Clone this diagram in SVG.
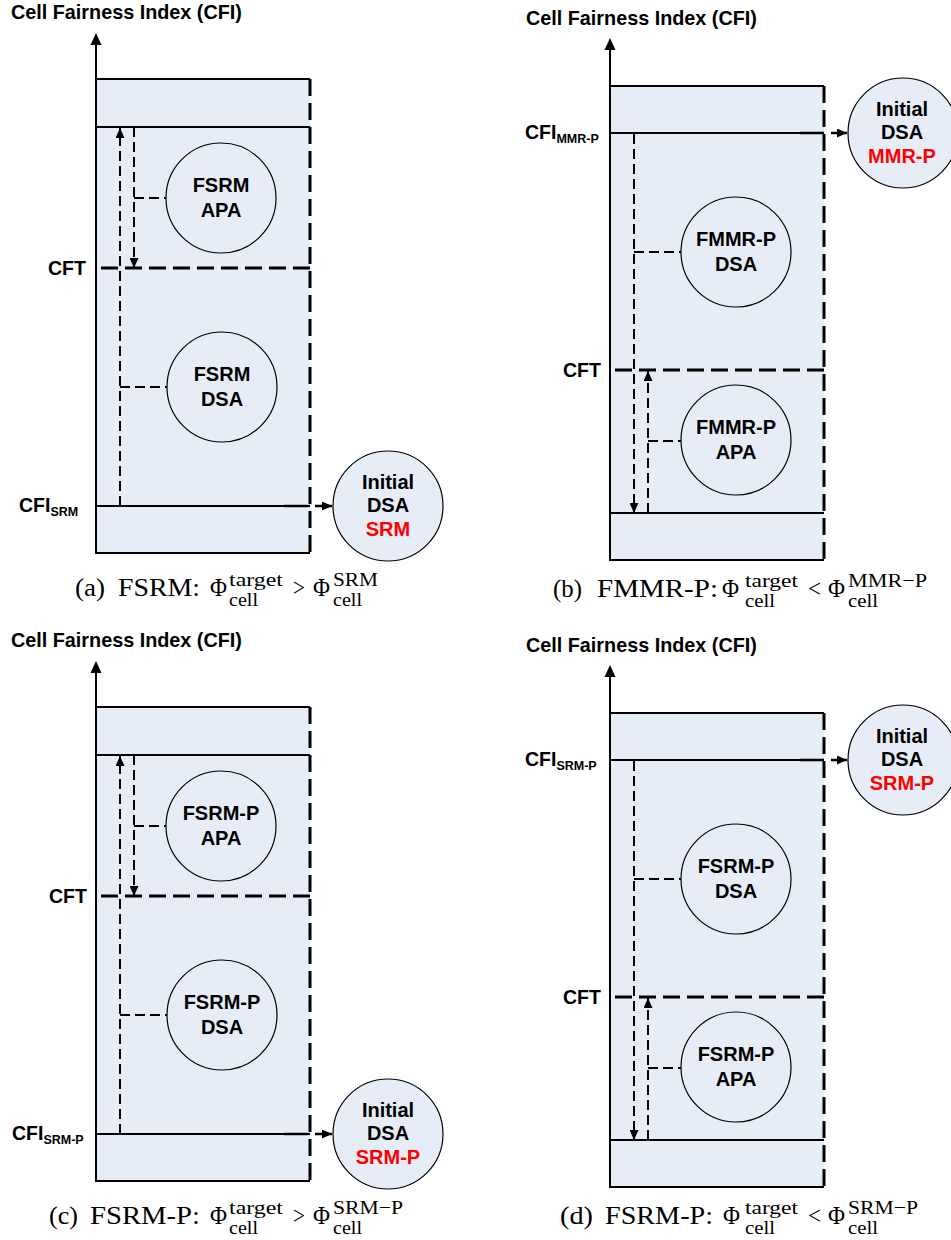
<svg xmlns="http://www.w3.org/2000/svg" width="951" height="1240" viewBox="0 0 951 1240">
<style>
.bg{fill:#E7EDF7;stroke:none}
.sol{fill:none;stroke:#000;stroke-width:2}
.tdash{fill:none;stroke:#000;stroke-width:3;stroke-dasharray:17,7}
.dash{fill:none;stroke:#000;stroke-width:2;stroke-dasharray:10,5}
.arr{marker-end:url(#ah)}
.link{fill:none;stroke:#000;stroke-width:2.5;stroke-dasharray:24,7,30;marker-end:url(#ah)}
.node{fill:#E7EDF7;stroke:#000;stroke-width:1.2}
.t{font-family:"Liberation Sans",Arial,sans-serif;font-weight:bold;fill:#000}
.title{font-size:19.8px}
.lbl{font-size:19.5px}
.sub{font-size:12.5px}
.nt{font-size:20px;text-anchor:middle}
.red{fill:#FF0000}
.cap{font-family:"Liberation Serif","Times New Roman",serif;font-size:25.5px;fill:#000}
.scr{font-size:19px}
</style>
<defs>
<marker id="ah" viewBox="0 0 10 9" refX="10" refY="4.5" markerWidth="10" markerHeight="9" markerUnits="userSpaceOnUse" orient="auto">
<path d="M0,0 L10,4.5 L0,9 z" fill="#000"/>
</marker>
</defs>

<!-- Panel (a) -->
<g id="panel-a">
<text class="t title" x="11" y="19">Cell Fairness Index (CFI)</text>
<rect class="bg" x="96" y="79" width="214" height="474"/>
<path class="sol" d="M310,79 H96 V553 H310"/>
<line class="sol" x1="96" y1="79" x2="96" y2="44"/>
<polygon points="96,33 90.5,45 101.5,45" fill="#000"/>
<line class="tdash" x1="310" y1="79" x2="310" y2="553"/>
<line class="sol" x1="96" y1="127" x2="310" y2="127"/>
<line class="tdash" x1="101" y1="268" x2="310" y2="268"/>
<line class="sol" x1="96" y1="506" x2="310" y2="506"/>
<text class="t lbl" x="48" y="275">CFT</text>
<text class="t lbl" x="19" y="512">CFI<tspan class="sub" dy="4">SRM</tspan></text>
<g id="a-connectors">
<path class="dash arr" d="M120,506 V128"/>
<path class="dash arr" d="M134,127 V268"/>
<path class="dash" d="M134,198 H166"/>
<path class="dash" d="M120,387 H167"/>
<path class="link" d="M284,506 H332"/>
</g>
<g id="a-fsrm-apa">
<circle class="node" cx="221" cy="198" r="55"/>
<text class="t nt" x="221" y="192">FSRM</text>
<text class="t nt" x="221" y="217">APA</text>
</g>
<g id="a-fsrm-dsa">
<circle class="node" cx="222" cy="387" r="55"/>
<text class="t nt" x="222" y="381">FSRM</text>
<text class="t nt" x="222" y="406">DSA</text>
</g>
<g id="a-initial">
<circle class="node" cx="388" cy="506" r="55"/>
<text class="t nt" x="388" y="489">Initial</text>
<text class="t nt" x="388" y="512">DSA</text>
<text class="t nt red" x="388" y="536">SRM</text>
</g>
</g>

<!-- Panel (b) -->
<g id="panel-b">
<text class="t title" x="526" y="25">Cell Fairness Index (CFI)</text>
<rect class="bg" x="610" y="86" width="214" height="474"/>
<path class="sol" d="M824,86 H610 V560 H824"/>
<line class="sol" x1="610" y1="86" x2="610" y2="49"/>
<polygon points="610,38 604.5,50 615.5,50" fill="#000"/>
<line class="tdash" x1="824" y1="86" x2="824" y2="560"/>
<line class="sol" x1="610" y1="133" x2="824" y2="133"/>
<line class="tdash" x1="615" y1="370" x2="824" y2="370"/>
<line class="sol" x1="610" y1="513" x2="824" y2="513"/>
<text class="t lbl" x="563" y="377">CFT</text>
<text class="t lbl" x="525" y="139">CFI<tspan class="sub" dy="4">MMR-P</tspan></text>
<g id="b-connectors">
<path class="dash arr" d="M634,134 V513"/>
<path class="dash arr" d="M648,513 V371"/>
<path class="dash" d="M634,252 H681"/>
<path class="dash" d="M648,441 H681"/>
<path class="link" d="M800,133 H847"/>
</g>
<g id="b-fmmrp-dsa">
<circle class="node" cx="736" cy="252" r="55"/>
<text class="t nt" x="736" y="246">FMMR-P</text>
<text class="t nt" x="736" y="271">DSA</text>
</g>
<g id="b-fmmrp-apa">
<circle class="node" cx="736" cy="440" r="55"/>
<text class="t nt" x="736" y="434">FMMR-P</text>
<text class="t nt" x="736" y="459">APA</text>
</g>
<g id="b-initial">
<circle class="node" cx="903" cy="133" r="55"/>
<text class="t nt" x="902" y="116">Initial</text>
<text class="t nt" x="902" y="139">DSA</text>
<text class="t nt red" x="902" y="163">MMR-P</text>
</g>
</g>

<!-- Panel (c) -->
<g id="panel-c" transform="translate(0,628)">
<text class="t title" x="11" y="19">Cell Fairness Index (CFI)</text>
<rect class="bg" x="96" y="79" width="214" height="474"/>
<path class="sol" d="M310,79 H96 V553 H310"/>
<line class="sol" x1="96" y1="79" x2="96" y2="44"/>
<polygon points="96,33 90.5,45 101.5,45" fill="#000"/>
<line class="tdash" x1="310" y1="79" x2="310" y2="553"/>
<line class="sol" x1="96" y1="127" x2="310" y2="127"/>
<line class="tdash" x1="101" y1="268" x2="310" y2="268"/>
<line class="sol" x1="96" y1="506" x2="310" y2="506"/>
<text class="t lbl" x="49" y="275">CFT</text>
<text class="t lbl" x="12" y="512">CFI<tspan class="sub" dy="4">SRM-P</tspan></text>
<g id="c-connectors">
<path class="dash arr" d="M120,506 V128"/>
<path class="dash arr" d="M134,127 V268"/>
<path class="dash" d="M134,198 H166"/>
<path class="dash" d="M120,387 H167"/>
<path class="link" d="M284,506 H332"/>
</g>
<g id="c-fsrmp-apa">
<circle class="node" cx="221" cy="198" r="55"/>
<text class="t nt" x="221" y="192">FSRM-P</text>
<text class="t nt" x="221" y="217">APA</text>
</g>
<g id="c-fsrmp-dsa">
<circle class="node" cx="222" cy="387" r="55"/>
<text class="t nt" x="222" y="381">FSRM-P</text>
<text class="t nt" x="222" y="406">DSA</text>
</g>
<g id="c-initial">
<circle class="node" cx="388" cy="506" r="55"/>
<text class="t nt" x="388" y="489">Initial</text>
<text class="t nt" x="388" y="512">DSA</text>
<text class="t nt red" x="388" y="536">SRM-P</text>
</g>
</g>

<!-- Panel (d) -->
<g id="panel-d" transform="translate(0,627)">
<text class="t title" x="526" y="25">Cell Fairness Index (CFI)</text>
<rect class="bg" x="610" y="86" width="214" height="474"/>
<path class="sol" d="M824,86 H610 V560 H824"/>
<line class="sol" x1="610" y1="86" x2="610" y2="49"/>
<polygon points="610,38 604.5,50 615.5,50" fill="#000"/>
<line class="tdash" x1="824" y1="86" x2="824" y2="560"/>
<line class="sol" x1="610" y1="133" x2="824" y2="133"/>
<line class="tdash" x1="615" y1="370" x2="824" y2="370"/>
<line class="sol" x1="610" y1="513" x2="824" y2="513"/>
<text class="t lbl" x="563" y="377">CFT</text>
<text class="t lbl" x="525" y="139">CFI<tspan class="sub" dy="4">SRM-P</tspan></text>
<g id="d-connectors">
<path class="dash arr" d="M634,134 V513"/>
<path class="dash arr" d="M648,513 V371"/>
<path class="dash" d="M634,252 H681"/>
<path class="dash" d="M648,441 H681"/>
<path class="link" d="M800,133 H847"/>
</g>
<g id="d-fsrmp-dsa">
<circle class="node" cx="736" cy="252" r="55"/>
<text class="t nt" x="736" y="246">FSRM-P</text>
<text class="t nt" x="736" y="271">DSA</text>
</g>
<g id="d-fsrmp-apa">
<circle class="node" cx="736" cy="440" r="55"/>
<text class="t nt" x="736" y="434">FSRM-P</text>
<text class="t nt" x="736" y="459">APA</text>
</g>
<g id="d-initial">
<circle class="node" cx="903" cy="133" r="55"/>
<text class="t nt" x="902" y="116">Initial</text>
<text class="t nt" x="902" y="139">DSA</text>
<text class="t nt red" x="902" y="163">SRM-P</text>
</g>
</g>

<!-- Captions -->
<g id="caption-a" class="cap">
<text x="75" y="596" textLength="30" lengthAdjust="spacingAndGlyphs">(a)</text>
<text x="118" y="596" textLength="82" lengthAdjust="spacingAndGlyphs">FSRM:</text>
<text x="210" y="596" textLength="17" lengthAdjust="spacingAndGlyphs">Φ</text>
<text class="scr" x="229" y="586" textLength="54" lengthAdjust="spacingAndGlyphs">target</text>
<text class="scr" x="229" y="606" textLength="29" lengthAdjust="spacingAndGlyphs">cell</text>
<text x="293" y="596" textLength="12" lengthAdjust="spacingAndGlyphs">&gt;</text>
<text x="313" y="596" textLength="17" lengthAdjust="spacingAndGlyphs">Φ</text>
<text class="scr" x="333" y="586" textLength="45" lengthAdjust="spacingAndGlyphs">SRM</text>
<text class="scr" x="333" y="606" textLength="29" lengthAdjust="spacingAndGlyphs">cell</text>
</g>
<g id="caption-b" class="cap">
<text x="553" y="597" textLength="29" lengthAdjust="spacingAndGlyphs">(b)</text>
<text x="597" y="597" textLength="121" lengthAdjust="spacingAndGlyphs">FMMR-P:</text>
<text x="722" y="597" textLength="17" lengthAdjust="spacingAndGlyphs">Φ</text>
<text class="scr" x="745" y="587" textLength="53" lengthAdjust="spacingAndGlyphs">target</text>
<text class="scr" x="745" y="607" textLength="30" lengthAdjust="spacingAndGlyphs">cell</text>
<text x="808" y="597" textLength="13" lengthAdjust="spacingAndGlyphs">&lt;</text>
<text x="828" y="597" textLength="17" lengthAdjust="spacingAndGlyphs">Φ</text>
<text class="scr" x="848" y="587" textLength="79" lengthAdjust="spacingAndGlyphs">MMR−P</text>
<text class="scr" x="848" y="607" textLength="30" lengthAdjust="spacingAndGlyphs">cell</text>
</g>
<g id="caption-c" class="cap">
<text x="49" y="1224" textLength="29" lengthAdjust="spacingAndGlyphs">(c)</text>
<text x="90" y="1224" textLength="110" lengthAdjust="spacingAndGlyphs">FSRM-P:</text>
<text x="210" y="1224" textLength="17" lengthAdjust="spacingAndGlyphs">Φ</text>
<text class="scr" x="229" y="1214" textLength="54" lengthAdjust="spacingAndGlyphs">target</text>
<text class="scr" x="229" y="1234" textLength="29" lengthAdjust="spacingAndGlyphs">cell</text>
<text x="293" y="1224" textLength="12" lengthAdjust="spacingAndGlyphs">&gt;</text>
<text x="313" y="1224" textLength="17" lengthAdjust="spacingAndGlyphs">Φ</text>
<text class="scr" x="333" y="1214" textLength="70" lengthAdjust="spacingAndGlyphs">SRM−P</text>
<text class="scr" x="333" y="1234" textLength="29" lengthAdjust="spacingAndGlyphs">cell</text>
</g>
<g id="caption-d" class="cap">
<text x="560" y="1224" textLength="33" lengthAdjust="spacingAndGlyphs">(d)</text>
<text x="605" y="1224" textLength="108" lengthAdjust="spacingAndGlyphs">FSRM-P:</text>
<text x="723" y="1224" textLength="17" lengthAdjust="spacingAndGlyphs">Φ</text>
<text class="scr" x="745" y="1214" textLength="53" lengthAdjust="spacingAndGlyphs">target</text>
<text class="scr" x="745" y="1234" textLength="30" lengthAdjust="spacingAndGlyphs">cell</text>
<text x="808" y="1224" textLength="13" lengthAdjust="spacingAndGlyphs">&lt;</text>
<text x="828" y="1224" textLength="17" lengthAdjust="spacingAndGlyphs">Φ</text>
<text class="scr" x="848" y="1214" textLength="70" lengthAdjust="spacingAndGlyphs">SRM−P</text>
<text class="scr" x="848" y="1234" textLength="30" lengthAdjust="spacingAndGlyphs">cell</text>
</g>
</svg>
